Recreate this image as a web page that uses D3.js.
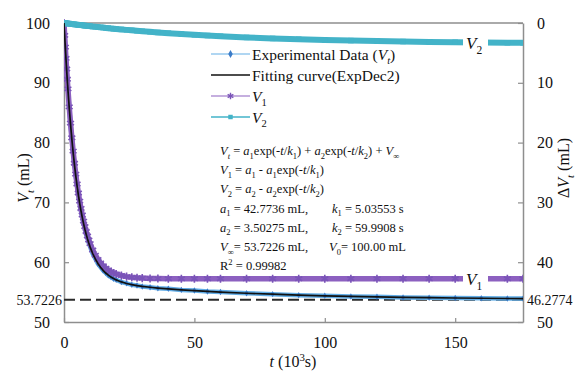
<!DOCTYPE html>
<html>
<head>
<meta charset="utf-8">
<script src="https://cdn.jsdelivr.net/npm/d3@7"></script>
<style>
  body { margin: 0; background: #fff; }
  svg { display: block; font-family: "Liberation Serif", "Times New Roman", serif; }
</style>
</head>
<body>
<div id="chart"></div>
<script>
// time in 10^3 s
const times = [0, 0.25, 0.5, 0.75, 1, 1.25, 1.5, 2, 2.5, 3, 3.5, 4, 4.5, 5, 5.5, 6, 6.5, 7, 7.5, 8, 8.5, 9, 9.5, 10,
  11, 12, 13, 14, 15, 16, 17, 18, 19, 20, 22, 24, 26, 28, 30, 33, 36, 40, 45, 50, 55, 60,
  70, 80, 90, 100, 110, 120, 130, 140, 150, 160, 170, 176];
// Vt, mL (left axis)
const expData = [100.00, 97.85, 95.98, 94.10, 92.18, 90.60, 88.82, 85.93, 83.05, 80.70, 78.30, 76.40, 74.41, 72.85,
  71.20, 69.95, 68.58, 67.55, 66.40, 65.57, 64.62, 63.95, 63.15, 62.60, 61.40, 60.58, 59.74, 59.18, 58.60, 58.22,
  57.80, 57.53, 57.24, 57.06, 56.68, 56.46, 56.22, 56.10, 55.94, 55.82, 55.66, 55.55, 55.37, 55.26, 55.11, 55.02,
  54.80, 54.66, 54.49, 54.39, 54.27, 54.21, 54.11, 54.07, 54.00, 53.98, 53.92, 53.91];
const fitData = [100.00, 97.92, 95.93, 94.04, 92.24, 90.53, 88.89, 85.87, 83.12, 80.63, 78.37, 76.32, 74.48, 72.79,
  71.27, 69.89, 68.63, 67.49, 66.46, 65.52, 64.68, 63.90, 63.20, 62.56, 61.45, 60.54, 59.78, 59.15, 58.63, 58.19,
  57.83, 57.51, 57.26, 57.04, 56.70, 56.44, 56.24, 56.08, 55.96, 55.81, 55.68, 55.54, 55.38, 55.25, 55.12, 55.01,
  54.81, 54.65, 54.50, 54.38, 54.28, 54.20, 54.12, 54.06, 54.01, 53.97, 53.93, 53.91];
// released volumes, mL (right axis)
const v1Data = [0, 2.07, 4.04, 5.92, 7.70, 9.40, 11.02, 14.02, 16.74, 19.20, 21.43, 23.45, 25.27, 26.93, 28.42,
  29.78, 31.01, 32.12, 33.13, 34.04, 34.86, 35.61, 36.29, 36.90, 37.96, 38.83, 39.54, 40.12, 40.60, 40.99, 41.31,
  41.58, 41.79, 41.97, 42.23, 42.41, 42.53, 42.61, 42.66, 42.71, 42.74, 42.76, 42.77, 42.77, 42.77, 42.77,
  42.77, 42.77, 42.77, 42.77, 42.77, 42.77, 42.77, 42.77, 42.77, 42.77, 42.77, 42.77];
const v2Data = [0, 0.01, 0.03, 0.04, 0.06, 0.07, 0.09, 0.11, 0.14, 0.17, 0.20, 0.23, 0.25, 0.28, 0.31, 0.33, 0.36,
  0.39, 0.41, 0.44, 0.46, 0.49, 0.51, 0.54, 0.59, 0.63, 0.68, 0.73, 0.77, 0.82, 0.86, 0.91, 0.95, 0.99, 1.07, 1.15,
  1.23, 1.31, 1.38, 1.48, 1.58, 1.70, 1.85, 1.98, 2.10, 2.21, 2.41, 2.58, 2.72, 2.84, 2.94, 3.03, 3.10, 3.16, 3.22,
  3.26, 3.30, 3.32];
const vInf = 53.7226;
const xTicks = [0, 50, 100, 150];
const yTicks = [50, 60, 70, 80, 90, 100];
const yRTicks = [0, 10, 20, 30, 40, 50];

const width = 575, height = 372;
const margin = {left: 64, right: 52, top: 23, bottom: 50};
const teal = "#43b3c8", purple = "#8c60c0", purpleDark = "#7a54b8", lightBlue = "#62ade6", blue = "#3a7bc8", gray = "#8e8e8e";

const svg = d3.select("#chart").append("svg").attr("width", width).attr("height", height);
svg.append("rect").attr("width", width).attr("height", height).attr("fill", "#fff");

const x = d3.scaleLinear().domain([0, 176]).range([margin.left, width - margin.right]);
const y = d3.scaleLinear().domain([50, 100]).range([height - margin.bottom, margin.top]);
const yR = d3.scaleLinear().domain([0, 50]).range([margin.top, height - margin.bottom]);

// rich text: parts of [text, flags] with i = italic, s = subscript, p = superscript
function rich(sel, px, py, parts, size) {
    const t = sel.append("text").attr("x", px).attr("y", py).attr("font-size", size).attr("fill", "#111");
    let shift = 0;
    parts.forEach(function (p) {
        const sub = p[1].includes("s"), sup = p[1].includes("p");
        const target = sub ? size * 0.3 : (sup ? -size * 0.4 : 0);
        t.append("tspan")
            .attr("dy", target - shift)
            .attr("font-style", p[1].includes("i") ? "italic" : "normal")
            .attr("font-size", (sub || sup) ? size * 0.68 : size)
            .text(p[0]);
        shift = target;
    });
    return t;
}

// axes
const styleAxis = function (g) {
    g.select(".domain").attr("stroke", gray).attr("stroke-width", 1.5);
    g.selectAll(".tick line").attr("stroke", gray).attr("stroke-width", 1.2);
    g.selectAll(".tick text").attr("font-size", 16).attr("fill", "#111")
        .attr("font-family", "'Liberation Serif', 'Times New Roman', serif");
};
svg.append("g").attr("transform", "translate(0," + (height - margin.bottom) + ")")
    .call(d3.axisBottom(x).tickValues(xTicks).tickSizeInner(-4).tickSizeOuter(0).tickPadding(15))
    .call(styleAxis);
svg.append("g").attr("transform", "translate(" + margin.left + ",0)")
    .call(d3.axisLeft(y).tickValues(yTicks).tickSizeInner(-5).tickSizeOuter(0).tickPadding(14))
    .call(styleAxis);
svg.append("g").attr("transform", "translate(" + (width - margin.right) + ",0)")
    .call(d3.axisRight(yR).tickValues(yRTicks).tickSizeInner(-5).tickSizeOuter(0).tickPadding(14))
    .call(styleAxis);
svg.append("line").attr("x1", margin.left).attr("x2", width - margin.right)
    .attr("y1", margin.top).attr("y2", margin.top).attr("stroke", gray).attr("stroke-width", 1.5);

svg.append("defs").append("clipPath").attr("id", "plot")
    .append("rect").attr("x", margin.left).attr("y", margin.top - 4)
    .attr("width", width - margin.left - margin.right).attr("height", height - margin.top - margin.bottom + 4);
const plot = svg.append("g").attr("clip-path", "url(#plot)");

// asymptote
plot.append("line").attr("x1", x(0)).attr("x2", x(176)).attr("y1", y(vInf)).attr("y2", y(vInf))
    .attr("stroke", "#2a2a2a").attr("stroke-width", 2).attr("stroke-dasharray", "11,5");

const idx = d3.range(times.length);
const lineL = arr => d3.line().x(i => x(times[i])).y(i => y(arr[i]));
const lineR = arr => d3.line().x(i => x(times[i])).y(i => yR(arr[i]));

// experimental data
plot.append("path").attr("d", lineL(expData)(idx)).attr("fill", "none").attr("stroke", lightBlue).attr("stroke-width", 4.5);
plot.selectAll(".exp").data(idx).enter().append("path")
    .attr("transform", i => "translate(" + x(times[i]) + "," + y(expData[i]) + ")")
    .attr("d", d3.symbol(d3.symbolDiamond, 12)).attr("fill", blue);

// V1
plot.append("path").attr("d", lineR(v1Data)(idx)).attr("fill", "none").attr("stroke", purple).attr("stroke-width", 5.5);
plot.selectAll(".v1").data(idx).enter().append("path")
    .attr("transform", i => "translate(" + x(times[i]) + "," + yR(v1Data[i]) + ")")
    .attr("d", d3.symbol(d3.symbolAsterisk, 45)).attr("fill", "none").attr("stroke", purpleDark).attr("stroke-width", 1.6);

// V2
plot.append("path").attr("d", lineR(v2Data)(idx)).attr("fill", "none").attr("stroke", teal).attr("stroke-width", 6);
plot.selectAll(".v2").data(idx).enter().append("path")
    .attr("transform", i => "translate(" + x(times[i]) + "," + yR(v2Data[i]) + ")")
    .attr("d", d3.symbol(d3.symbolSquare, 30)).attr("fill", teal);

// fitting curve
plot.append("path").attr("d", lineL(fitData)(idx)).attr("fill", "none").attr("stroke", "#111").attr("stroke-width", 1.7);

// curve labels
[[v2Data, "2"], [v1Data, "1"]].forEach(function (c) {
    const yy = yR(c[0][c[0].length - 2]);
    svg.append("rect").attr("x", 463).attr("y", yy - 10).attr("width", 25).attr("height", 20).attr("fill", "#fff");
    rich(svg, 466, yy + 6, [["V", "i"], [c[1], "s"]], 17);
});

// reference values
svg.append("text").attr("x", 62).attr("y", y(vInf) + 5).attr("text-anchor", "end").attr("font-size", 14)
    .attr("fill", "#111").text("53.7226");
svg.append("text").attr("x", 527).attr("y", yR(100 - vInf) + 5).attr("font-size", 14)
    .attr("fill", "#111").text("46.2774");

// axis titles
const lt = rich(svg, 0, 0, [["V", "i"], ["t", "is"], [" (mL)", ""]], 16);
lt.attr("text-anchor", "middle").attr("transform", "translate(29,178) rotate(-90)");
const rt = rich(svg, 0, 0, [["\u0394", ""], ["V", "i"], ["t", "is"], [" (mL)", ""]], 16);
rt.attr("text-anchor", "middle").attr("transform", "translate(569,168) rotate(-90)");
rich(svg, 293, 367, [["t", "i"], [" (10", ""], ["3", "p"], ["s)", ""]], 16).attr("text-anchor", "middle");

// legend
const legend = svg.append("g");
const rows = [
    {y: 54, color: lightBlue, w: 1.2, sym: d3.symbolDiamond, fill: blue, size: 18, text: [["Experimental Data (", ""], ["V", "i"], ["t", "is"], [")", ""]]},
    {y: 75, color: "#111", w: 1.7, sym: null, text: [["Fitting curve(ExpDec2)", ""]]},
    {y: 96, color: purple, w: 1.2, sym: d3.symbolAsterisk, stroke: purpleDark, size: 30, text: [["V", "i"], ["1", "s"]]},
    {y: 117, color: teal, w: 1.5, sym: d3.symbolSquare, fill: teal, size: 20, text: [["V", "i"], ["2", "s"]]}
];
rows.forEach(function (r) {
    legend.append("line").attr("x1", 211).attr("x2", 250).attr("y1", r.y).attr("y2", r.y)
        .attr("stroke", r.color).attr("stroke-width", r.w);
    if (r.sym) {
        legend.append("path").attr("transform", "translate(230.5," + r.y + ")")
            .attr("d", d3.symbol(r.sym, r.size))
            .attr("fill", r.fill || "none").attr("stroke", r.stroke || "none").attr("stroke-width", 1.4);
    }
    rich(legend, 252, r.y + 5.5, r.text, 15.5);
});

// fit equations
const eq = [
    [[["V", "i"], ["t", "is"], [" = ", ""], ["a", "i"], ["1", "s"], ["exp(-", ""], ["t", "i"], ["/", ""], ["k", "i"], ["1", "s"], [") + ", ""], ["a", "i"], ["2", "s"], ["exp(-", ""], ["t", "i"], ["/", ""], ["k", "i"], ["2", "s"], [") + ", ""], ["V", "i"], ["\u221e", "s"]]],
    [[["V", "i"], ["1", "s"], [" = ", ""], ["a", "i"], ["1", "s"], [" - ", ""], ["a", "i"], ["1", "s"], ["exp(-", ""], ["t", "i"], ["/", ""], ["k", "i"], ["1", "s"], [")", ""]]],
    [[["V", "i"], ["2", "s"], [" = ", ""], ["a", "i"], ["2", "s"], [" - ", ""], ["a", "i"], ["2", "s"], ["exp(-", ""], ["t", "i"], ["/", ""], ["k", "i"], ["2", "s"], [")", ""]]],
    [[["a", "i"], ["1", "s"], [" = 42.7736 mL,", ""]], [["k", "i"], ["1", "s"], [" = 5.03553 s", ""]]],
    [[["a", "i"], ["2", "s"], [" = 3.50275 mL,", ""]], [["k", "i"], ["2", "s"], [" = 59.9908 s", ""]]],
    [[["V", "i"], ["\u221e", "s"], ["= 53.7226 mL,", ""]], [["V", "i"], ["0", "s"], ["= 100.00 mL", ""]]],
    [[["R", ""], ["2", "p"], [" = 0.99982", ""]]]
];
const eqY = [155, 174, 193, 212.5, 231.5, 251, 270];
eq.forEach(function (line, i) {
    rich(svg, 220, eqY[i], line[0], 12.5);
    if (line[1]) rich(svg, i === 5 ? 329 : 332, eqY[i], line[1], 12.5);
});
</script>
</body>
</html>
